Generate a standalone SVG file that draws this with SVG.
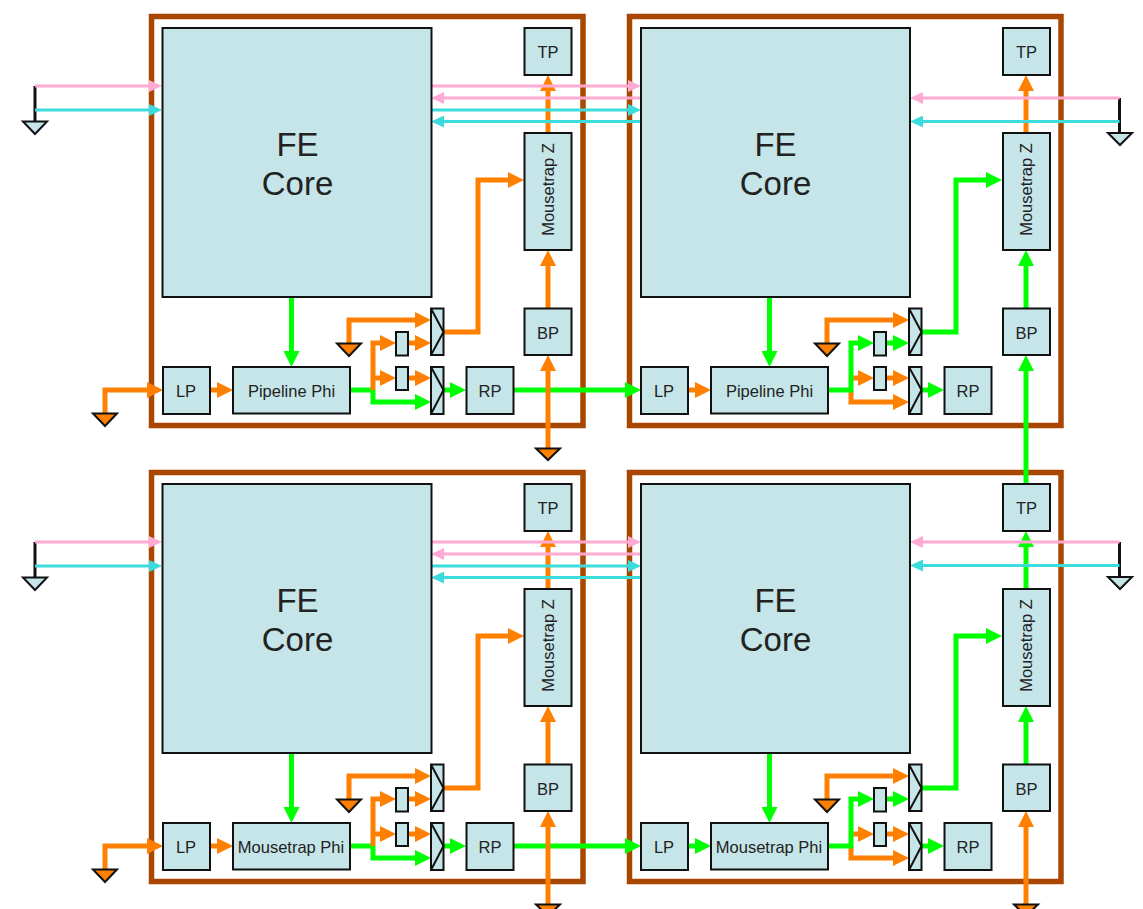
<svg xmlns="http://www.w3.org/2000/svg" width="1143" height="909" viewBox="0 0 1143 909">
<style>
text{font-family:"Liberation Sans",Arial,sans-serif;fill:#222;text-anchor:middle}
.l{font-size:16.5px}
.c{font-size:33px}
.f{fill:none;stroke:#a94700;stroke-width:5.5}
.n{fill:#c5e5e8;stroke:#111;stroke-width:2}
.x{fill:none;stroke:#111;stroke-width:2}
.go{fill:#ff8000;stroke:#111;stroke-width:2}
.gb{fill:#c5e5e8;stroke:#111;stroke-width:2}
.o{fill:none;stroke:#ff8000;stroke-width:5}
.g{fill:none;stroke:#00ff00;stroke-width:5}
.p{fill:none;stroke:#ffaad4;stroke-width:3}
.t{fill:none;stroke:#3cdcdc;stroke-width:3}
.b{fill:none;stroke:#111;stroke-width:3}
.oa{marker-end:url(#ao)}
.ga{marker-end:url(#ag)}
.pa{marker-end:url(#ap)}
.ta{marker-end:url(#at)}
</style>
<defs>
<marker id="ao" markerUnits="userSpaceOnUse" markerWidth="16" markerHeight="16" refX="6" refY="8" orient="auto"><path d="M0,0L16,8L0,16z" fill="#ff8000"/></marker>
<marker id="ag" markerUnits="userSpaceOnUse" markerWidth="16" markerHeight="16" refX="6" refY="8" orient="auto"><path d="M0,0L16,8L0,16z" fill="#00ff00"/></marker>
<marker id="ap" markerUnits="userSpaceOnUse" markerWidth="13" markerHeight="12" refX="4" refY="6" orient="auto"><path d="M0,0L13,6L0,12z" fill="#ffaad4"/></marker>
<marker id="at" markerUnits="userSpaceOnUse" markerWidth="13" markerHeight="12" refX="4" refY="6" orient="auto"><path d="M0,0L13,6L0,12z" fill="#3cdcdc"/></marker>
</defs>
<g id="frames">
<rect class="f" x="151.5" y="16.5" width="431.5" height="409"/>
<rect class="f" x="629.5" y="16.5" width="431.5" height="409"/>
<rect class="f" x="151.5" y="472.5" width="431.5" height="409"/>
<rect class="f" x="629.5" y="472.5" width="431.5" height="409"/>
</g>
<g id="connectors">
<g id="conn-tl">
<path class="o oa" d="M349,343V320H421"/>
<path class="g" d="M350,390H373"/>
<path class="g ga" d="M373,390V402H421"/>
<path class="o oa" d="M373,390V343H386"/>
<path class="o oa" d="M373,378H386"/>
<path class="o oa" d="M408,343H421"/>
<path class="o oa" d="M408,378H421"/>
<path class="o oa" d="M444,332H478V180H514"/>
<path class="g ga" d="M444,390H456"/>
<path class="g ga" d="M514,390H631"/>
<path class="o oa" d="M548,448V365"/>
<path class="o oa" d="M548,308V260"/>
<path class="o oa" d="M548,133V85"/>
<path class="g ga" d="M291.5,297V357"/>
<path class="o oa" d="M105,414V390H153"/>
<path class="o oa" d="M210,390H223"/>
</g>
<g id="conn-tr" transform="translate(478,0)">
<path class="o oa" d="M349,343V320H421"/>
<path class="o oa" d="M373,390V402H421"/>
<path class="o oa" d="M373,378H386"/>
<path class="g ga" d="M350,390H373V343H386"/>
<path class="g ga" d="M408,343H421"/>
<path class="o oa" d="M408,378H421"/>
<path class="g ga" d="M444,332H478V180H514"/>
<path class="g ga" d="M444,390H456"/>
<path class="g ga" d="M548,484V365"/>
<path class="g ga" d="M548,308V260"/>
<path class="o oa" d="M548,133V85"/>
<path class="g ga" d="M291.5,297V357"/>
<path class="o oa" d="M210,390H223"/>
</g>
<g id="conn-bl" transform="translate(0,456)">
<path class="o oa" d="M349,343V320H421"/>
<path class="g" d="M350,390H373"/>
<path class="g ga" d="M373,390V402H421"/>
<path class="o oa" d="M373,390V343H386"/>
<path class="o oa" d="M373,378H386"/>
<path class="o oa" d="M408,343H421"/>
<path class="o oa" d="M408,378H421"/>
<path class="o oa" d="M444,332H478V180H514"/>
<path class="g ga" d="M444,390H456"/>
<path class="g ga" d="M514,390H631"/>
<path class="o oa" d="M548,448V365"/>
<path class="o oa" d="M548,308V260"/>
<path class="o oa" d="M548,133V85"/>
<path class="g ga" d="M291.5,297V357"/>
<path class="o oa" d="M105,414V390H153"/>
<path class="o oa" d="M210,390H223"/>
</g>
<g id="conn-br" transform="translate(478,456)">
<path class="o oa" d="M349,343V320H421"/>
<path class="o oa" d="M373,390V402H421"/>
<path class="o oa" d="M373,378H386"/>
<path class="g ga" d="M350,390H373V343H386"/>
<path class="g ga" d="M408,343H421"/>
<path class="o oa" d="M408,378H421"/>
<path class="g ga" d="M444,332H478V180H514"/>
<path class="g ga" d="M444,390H456"/>
<path class="o oa" d="M548,448V365"/>
<path class="g ga" d="M548,308V260"/>
<path class="g ga" d="M548,133V85"/>
<path class="g ga" d="M291.5,297V357"/>
<path class="g ga" d="M210,390H223"/>
</g>
<g id="conn-buses">
<path class="b" d="M35,86V122"/>
<path class="p pa" d="M35,86H153"/>
<path class="t ta" d="M35,110H153"/>
<path class="p pa" d="M431,86H632"/>
<path class="p pa" d="M641,98H440"/>
<path class="t ta" d="M431,110H632"/>
<path class="t ta" d="M641,121.5H440"/>
<path class="b" d="M1119.5,98V133"/>
<path class="p pa" d="M1119.5,98H919"/>
<path class="t ta" d="M1119.5,121.5H919"/>
<path class="b" d="M35,542V578"/>
<path class="p pa" d="M35,542H153"/>
<path class="t ta" d="M35,566H153"/>
<path class="p pa" d="M431,542H632"/>
<path class="p pa" d="M641,554H440"/>
<path class="t ta" d="M431,566H632"/>
<path class="t ta" d="M641,577.5H440"/>
<path class="b" d="M1119.5,542V577"/>
<path class="p pa" d="M1119.5,542H919"/>
<path class="t ta" d="M1119.5,565.5H919"/>
</g>
</g>

<g id="core-tl"><rect class="n" x="162.5" y="28" width="269" height="269"/><text class="c" x="297.5" y="156">FE</text><text class="c" x="297.5" y="195">Core</text></g>
<g id="tp-tl"><rect class="n" x="524.5" y="28" width="47" height="47"/><text class="l" x="548" y="58">TP</text></g>
<g id="mz-tl"><rect class="n" x="524.5" y="133" width="47" height="117"/><text class="l" transform="translate(553.5,189.5) rotate(-90)">Mousetrap Z</text></g>
<g id="bp-tl"><rect class="n" x="524.5" y="308.5" width="47" height="46.5"/><text class="l" x="548" y="339">BP</text></g>
<g id="lp-tl"><rect class="n" x="163" y="367" width="47" height="47"/><text class="l" x="186" y="397">LP</text></g>
<g id="phi-tl"><rect class="n" x="233" y="367" width="117" height="46.5"/><text class="l" x="291.5" y="397">Pipeline Phi</text></g>
<g id="rp-tl"><rect class="n" x="466.5" y="367" width="47" height="47"/><text class="l" x="490" y="397">RP</text></g>
<g id="mux1-tl"><rect class="n" x="431" y="308.5" width="12.5" height="46.5"/><path class="x" d="M431,308.5L443.5,332L431,355"/></g>
<g id="mux2-tl"><rect class="n" x="431" y="367" width="12.5" height="47"/><path class="x" d="M431,367L443.5,390L431,414"/></g>
<g id="s1-tl"><rect class="n" x="396" y="332" width="12" height="23.5"/></g>
<g id="s2-tl"><rect class="n" x="396" y="367" width="12" height="23"/></g>

<g id="core-tr"><rect class="n" x="641" y="28" width="269" height="269"/><text class="c" x="775.5" y="156">FE</text><text class="c" x="775.5" y="195">Core</text></g>
<g id="tp-tr"><rect class="n" x="1003" y="28" width="47" height="47"/><text class="l" x="1026.5" y="58">TP</text></g>
<g id="mz-tr"><rect class="n" x="1003" y="133" width="47" height="117"/><text class="l" transform="translate(1032,189.5) rotate(-90)">Mousetrap Z</text></g>
<g id="bp-tr"><rect class="n" x="1003" y="308.5" width="47" height="46.5"/><text class="l" x="1026.5" y="339">BP</text></g>
<g id="lp-tr"><rect class="n" x="641" y="367" width="47" height="47"/><text class="l" x="664" y="397">LP</text></g>
<g id="phi-tr"><rect class="n" x="711" y="367" width="117" height="46.5"/><text class="l" x="769.5" y="397">Pipeline Phi</text></g>
<g id="rp-tr"><rect class="n" x="944.5" y="367" width="47" height="47"/><text class="l" x="968" y="397">RP</text></g>
<g id="mux1-tr"><rect class="n" x="909" y="308.5" width="12.5" height="46.5"/><path class="x" d="M909,308.5L921.5,332L909,355"/></g>
<g id="mux2-tr"><rect class="n" x="909" y="367" width="12.5" height="47"/><path class="x" d="M909,367L921.5,390L909,414"/></g>
<g id="s1-tr"><rect class="n" x="874" y="332" width="12" height="23.5"/></g>
<g id="s2-tr"><rect class="n" x="874" y="367" width="12" height="23"/></g>

<g id="core-bl"><rect class="n" x="162.5" y="484" width="269" height="269"/><text class="c" x="297.5" y="612">FE</text><text class="c" x="297.5" y="651">Core</text></g>
<g id="tp-bl"><rect class="n" x="524.5" y="484" width="47" height="47"/><text class="l" x="548" y="514">TP</text></g>
<g id="mz-bl"><rect class="n" x="524.5" y="589" width="47" height="117"/><text class="l" transform="translate(553.5,645.5) rotate(-90)">Mousetrap Z</text></g>
<g id="bp-bl"><rect class="n" x="524.5" y="764.5" width="47" height="46.5"/><text class="l" x="548" y="795">BP</text></g>
<g id="lp-bl"><rect class="n" x="163" y="823" width="47" height="47"/><text class="l" x="186" y="853">LP</text></g>
<g id="phi-bl"><rect class="n" x="233" y="823" width="117" height="46.5"/><text class="l" x="291" y="853">Mousetrap Phi</text></g>
<g id="rp-bl"><rect class="n" x="466.5" y="823" width="47" height="47"/><text class="l" x="490" y="853">RP</text></g>
<g id="mux1-bl"><rect class="n" x="431" y="764.5" width="12.5" height="46.5"/><path class="x" d="M431,764.5L443.5,788L431,811"/></g>
<g id="mux2-bl"><rect class="n" x="431" y="823" width="12.5" height="47"/><path class="x" d="M431,823L443.5,846L431,870"/></g>
<g id="s1-bl"><rect class="n" x="396" y="788" width="12" height="23.5"/></g>
<g id="s2-bl"><rect class="n" x="396" y="823" width="12" height="23"/></g>

<g id="core-br"><rect class="n" x="641" y="484" width="269" height="269"/><text class="c" x="775.5" y="612">FE</text><text class="c" x="775.5" y="651">Core</text></g>
<g id="tp-br"><rect class="n" x="1003" y="484" width="47" height="47"/><text class="l" x="1026.5" y="514">TP</text></g>
<g id="mz-br"><rect class="n" x="1003" y="589" width="47" height="117"/><text class="l" transform="translate(1032,645.5) rotate(-90)">Mousetrap Z</text></g>
<g id="bp-br"><rect class="n" x="1003" y="764.5" width="47" height="46.5"/><text class="l" x="1026.5" y="795">BP</text></g>
<g id="lp-br"><rect class="n" x="641" y="823" width="47" height="47"/><text class="l" x="664" y="853">LP</text></g>
<g id="phi-br"><rect class="n" x="711" y="823" width="117" height="46.5"/><text class="l" x="769" y="853">Mousetrap Phi</text></g>
<g id="rp-br"><rect class="n" x="944.5" y="823" width="47" height="47"/><text class="l" x="968" y="853">RP</text></g>
<g id="mux1-br"><rect class="n" x="909" y="764.5" width="12.5" height="46.5"/><path class="x" d="M909,764.5L921.5,788L909,811"/></g>
<g id="mux2-br"><rect class="n" x="909" y="823" width="12.5" height="47"/><path class="x" d="M909,823L921.5,846L909,870"/></g>
<g id="s1-br"><rect class="n" x="874" y="788" width="12" height="23.5"/></g>
<g id="s2-br"><rect class="n" x="874" y="823" width="12" height="23"/></g>

<g id="grounds">
<path id="g1" class="gb" d="M23,121.5H47L35,134z"/>
<path id="g2" class="gb" d="M1108,133H1132L1120,145z"/>
<path id="g3" class="gb" d="M23,577.5H47L35,590z"/>
<path id="g4" class="gb" d="M1108,577H1132L1120,589z"/>
<path id="g5" class="go" d="M93,413.5H117L105,426z"/>
<path id="g6" class="go" d="M337,343.5H361L349,356z"/>
<path id="g7" class="go" d="M536,448.5H560L548,460z"/>
<path id="g8" class="go" d="M815,343.5H839L827,356z"/>
<path id="g9" class="go" d="M93,869.5H117L105,882z"/>
<path id="g10" class="go" d="M337,799.5H361L349,812z"/>
<path id="g11" class="go" d="M536,904.5H560L548,916z"/>
<path id="g12" class="go" d="M815,799.5H839L827,812z"/>
<path id="g13" class="go" d="M1014,904.5H1038L1026,916z"/>
</g>
</svg>
